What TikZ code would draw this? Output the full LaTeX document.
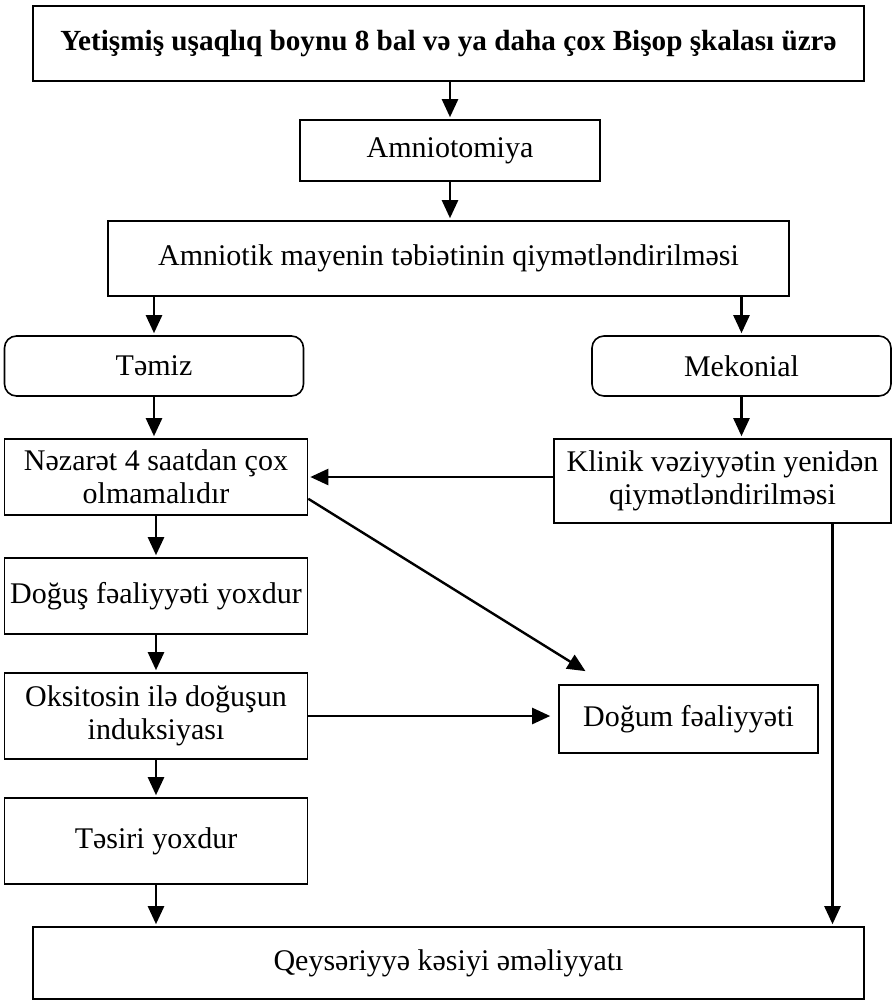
\documentclass[tikz,border=0pt]{standalone}
\usepackage{fontspec}
\setmainfont{Liberation Serif}
\usetikzlibrary{arrows.meta,calc}

\begin{document}
\begin{tikzpicture}[x=0.5pt,y=-0.5pt,
  box/.style={draw,line width=0.8pt,inner sep=0pt,align=center,font=\fontsize{15}{16.5}\selectfont},
  rbox/.style={box,rounded corners=6pt},
  arr/.style={-{Triangle[length=9pt,width=8pt]},line width=1.2pt,shorten >=1pt}]
\useasboundingbox (0,0) rectangle (893,1002);

\node[box,minimum width=415.5pt,minimum height=37.5pt,font=\fontsize{14.6}{16.5}\selectfont\bfseries] (top) at (448.5,43.5) {Yetişmiş uşaqlıq boynu 8 bal və ya daha çox Bişop şkalası üzrə};
\node[box,minimum width=150pt,minimum height=30.5pt] (amn) at (450,150.5) {Amniotomiya};
\node[box,minimum width=340.5pt,minimum height=37.5pt] (qiy) at (448.5,258.5) {Amniotik mayenin təbiətinin qiymətləndirilməsi};
\node[rbox,minimum width=149.5pt,minimum height=30pt] (temiz) at (154,366) {Təmiz};
\node[rbox,minimum width=149.5pt,minimum height=30pt] (mek) at (741.5,366) {Mekonial};
\node[box,minimum width=151.5pt,minimum height=38pt] (nez) at (156,477) {Nəzarət 4 saatdan çox\\olmamalıdır};
\node[box,minimum width=168.5pt,minimum height=42pt] (kli) at (722.5,481) {Klinik vəziyyətin yenidən\\qiymətləndirilməsi};
\node[box,minimum width=151.5pt,minimum height=38pt] (dogus) at (156,596) {Doğuş fəaliyyəti yoxdur};
\node[box,minimum width=151.5pt,minimum height=43pt] (oks) at (156,716) {Oksitosin ilə doğuşun\\induksiyası};
\node[box,minimum width=129.5pt,minimum height=34pt] (dogum) at (688.5,719) {Doğum fəaliyyəti};
\node[box,minimum width=151.5pt,minimum height=43pt] (tesir) at (156,841) {Təsiri yoxdur};
\node[box,minimum width=415.5pt,minimum height=36pt] (qey) at (448.5,963) {Qeysəriyyə kəsiyi əməliyyatı};

\coordinate (ds) at ($(nez.south east)+(0,-17)$);
\coordinate (de) at ($(dogum.north west)+(29,-12)$);
\coordinate (kr) at ($(kli.south)+(110,0)$);

\draw[arr] (top.south -| amn) -- (amn);
\draw[arr] (amn.south) -- (amn.south |- qiy.north);
\draw[arr] (qiy.south -| temiz) -- (temiz);
\draw[arr] (qiy.south -| mek) -- (mek);
\draw[arr] (temiz) -- (temiz |- nez.north);
\draw[arr] (mek) -- (mek |- kli.north);
\draw[arr] (kli.west |- nez) -- (nez.east);
\draw[arr] (ds) -- (de);
\draw[arr] (nez) -- (dogus);
\draw[arr] (dogus) -- (oks);
\draw[arr,shorten >=4pt] (oks) -- (oks -| dogum.west);
\draw[arr] (oks) -- (tesir);
\draw[arr] (tesir) -- (tesir |- qey.north);
\draw[arr] (kr) -- (kr |- qey.north);
\end{tikzpicture}
\end{document}
